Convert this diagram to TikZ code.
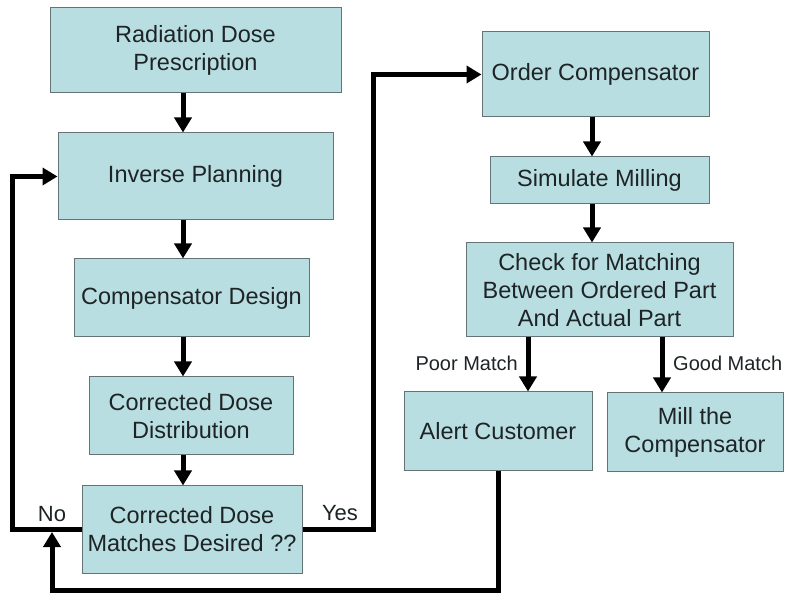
\documentclass[tikz,border=0pt]{standalone}
\usepackage{fontspec}
\setmainfont{Liberation Sans}
\usetikzlibrary{arrows.meta}
\definecolor{boxfill}{RGB}{184,222,225}
\definecolor{boxedge}{RGB}{100,116,118}
\definecolor{txt}{RGB}{30,36,38}
\tikzset{
  stepbox/.style={draw=boxedge, line width=1pt, fill=boxfill, text=txt,
    align=center, inner sep=0pt, font=\fontsize{23.5}{28}\selectfont},
  flow/.style={line width=5pt, draw=black,
    -{Triangle[length=15pt,width=17pt]}},
  lbl/.style={text=txt, inner sep=0pt},
}
\begin{document}
\begin{tikzpicture}[x=1pt,y=-1pt]
\useasboundingbox[fill=white] (0,0) rectangle (785,593);

% left column
\node[stepbox, minimum width=291pt, minimum height=85pt] (b1) at (195.5,50.5)
  {Radiation Dose\\Prescription};
\node[stepbox, minimum width=275pt, minimum height=87pt] (b2) at (195.5,176.5)
  {Inverse Planning};
\node[stepbox, minimum width=235pt, minimum height=78pt] (b3) at (191.5,298)
  {Compensator Design};
\node[stepbox, minimum width=204pt, minimum height=78pt] (b4) at (191,416)
  {Corrected Dose\\Distribution};
\node[stepbox, minimum width=220pt, minimum height=87pt] (b5) at (192,529.5)
  {Corrected Dose\\Matches Desired ??};

% right column
\node[stepbox, minimum width=227pt, minimum height=85pt] (b6) at (595.5,74.5)
  {Order Compensator};
\node[stepbox, minimum width=219pt, minimum height=47pt] (b7) at (599.5,180.5)
  {Simulate Milling};
\node[stepbox, minimum width=267pt, minimum height=94pt] (b8) at (599.5,290)
  {Check for Matching\\Between Ordered Part\\And Actual Part};
\node[stepbox, minimum width=188pt, minimum height=79pt] (b9) at (498,431.5)
  {Alert Customer};
\node[stepbox, minimum width=176pt, minimum height=79pt] (b10) at (695,432.5)
  {Mill the\\Compensator};

% guide positions for the arrow shafts
\coordinate (xl) at (183,0);
\coordinate (xr) at (592,0);
\coordinate (xp) at (528,0);
\coordinate (xg) at (662,0);

% main flow
\draw[flow] (b1.south -| xl) -- (b2.north -| xl);
\draw[flow] (b2.south -| xl) -- (b3.north -| xl);
\draw[flow] (b3.south -| xl) -- (b4.north -| xl);
\draw[flow] (b4.south -| xl) -- (b5.north -| xl);
\draw[flow] (b6.south -| xr) -- (b7.north -| xr);
\draw[flow] (b7.south -| xr) -- (b8.north -| xr);
\draw[flow] (b8.south -| xp) -- (b9.north -| xp);
\draw[flow] (b8.south -| xg) -- (b10.north -| xg);

% decision branches
\draw[flow] (b5.west) -- ++(-69,0) |- (b2.west);
\draw[flow] (b5.east) -- ++(71,0) |- (b6.west);

% return path from the customer alert
\coordinate (fbc) at (52,590);
\coordinate (fb) at (52,532);
\draw[flow] (b9.south) |- (fbc) -- (fb);

% branch labels
\node[lbl, font=\fontsize{22}{26}\selectfont] (no) at (52,514) {No};
\node[lbl, font=\fontsize{22}{26}\selectfont] (yes) at (340,513) {Yes};
\node[lbl, font=\fontsize{20}{24}\selectfont, anchor=east] (poor) at (518,363) {Poor Match};
\node[lbl, font=\fontsize{20}{24}\selectfont, anchor=west] (good) at (673,363) {Good Match};
\end{tikzpicture}
\end{document}
